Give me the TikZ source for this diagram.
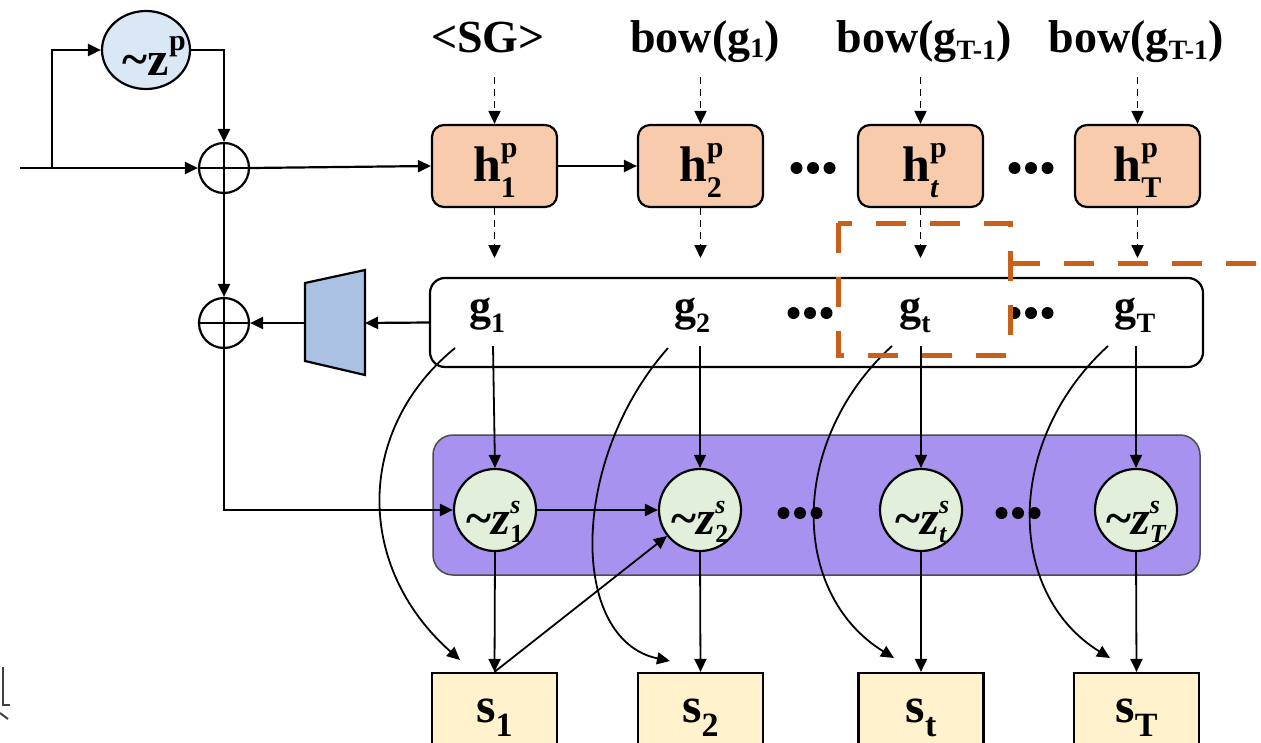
\documentclass[tikz,border=0pt]{standalone}
\usepackage{fontspec}
\setmainfont{Liberation Serif}
\usetikzlibrary{arrows.meta,shapes.geometric}

\definecolor{hfill}{HTML}{F8CBAD}
\definecolor{sfill}{HTML}{FFF2CC}
\definecolor{zfill}{HTML}{E2EFDA}
\definecolor{zpfill}{HTML}{DAE8F5}
\definecolor{trapfill}{HTML}{ABC1E3}
\definecolor{purp}{HTML}{A892F0}
\definecolor{orng}{HTML}{C8601A}

% base with super- and subscript: base, sup, sub, script size, raise, lower
\newcommand{\sps}[6]{{#1}{\fontsize{#4}{#4}\selectfont\rlap{\raisebox{#5}{#2}}\raisebox{-#6}{#3}}}
% base with subscript only: base, sub, lower, script size
\newcommand{\lsub}[4]{{#1}{\fontsize{#4}{#4}\selectfont\raisebox{-#3}{#2}}}

\tikzset{
  arr/.style={-{Triangle[length=13pt,width=12pt]}, line width=2.2pt},
  thinarr/.style={-{Triangle[length=13pt,width=12pt]}, line width=1.8pt},
  dasharr/.style={-{Triangle[length=13pt,width=12pt]}, line width=1.9pt, dash pattern=on 7pt off 5pt},
  lab/.style={font=\fontsize{46}{50}\selectfont\bfseries, inner sep=0pt, anchor=base},
  glab/.style={font=\fontsize{44}{48}\selectfont\bfseries, inner sep=0pt, anchor=base},
  hbox/.style={draw, line width=2.2pt, rounded corners=12pt, fill=hfill, minimum width=125pt,
    minimum height=82pt, inner sep=0pt, font=\fontsize{50}{54}\selectfont\bfseries},
  sbox/.style={draw, line width=2.2pt, fill=sfill, minimum width=125pt, minimum height=90pt,
    inner sep=0pt, font=\fontsize{50}{54}\selectfont\bfseries},
  znode/.style={circle, draw, line width=2.2pt, fill=zfill, minimum size=82pt, inner sep=0pt,
    font=\fontsize{48}{52}\selectfont\bfseries},
  zpnode/.style={ellipse, draw, line width=2.2pt, fill=zpfill, minimum width=88pt,
    minimum height=78pt, inner sep=0pt, font=\fontsize{48}{52}\selectfont\bfseries},
  oplus/.style={circle, draw, line width=2.2pt, minimum size=50pt, inner sep=0pt,
    path picture={\draw[line width=2.2pt] (path picture bounding box.north) -- (path picture bounding box.south)
      (path picture bounding box.west) -- (path picture bounding box.east);}},
  gframe/.style={draw, line width=2.2pt, rounded corners=15pt, fill=white, minimum width=773pt,
    minimum height=89pt, inner sep=0pt},
  pframe/.style={draw=black!70, line width=1.5pt, rounded corners=20pt, fill=purp,
    minimum width=767pt, minimum height=140pt, inner sep=0pt},
  hilite/.style={draw=orng, line width=5pt, dash pattern=on 30pt off 24pt},
}

\begin{document}
\begin{tikzpicture}[x=1pt, y=-1pt]
\useasboundingbox (0,0) rectangle (1261,742);

% ---- left: noise, adders and the projection trapezoid ----
\node[zpnode] (zp) at (146,50) {\raisebox{-25pt}[0pt][0pt]{\textasciitilde\sps{z}{p}{}{30}{25pt}{0pt}}};
\node[oplus] (op1) at (224,168) {};
\node[oplus] (op2) at (224,323) {};
\coordinate (in) at (20,168);
\coordinate (br) at (52,168);
\filldraw[fill=trapfill, line width=2.2pt] (305,283) -- (365,270) -- (365,375) -- (305,361) -- cycle;
\coordinate (trl) at (305,323);
\coordinate (trr) at (365,323);

% ---- top labels ----
\node[lab] (l1) at (488,52) {<SG>};
\node[lab] (l2) at (705,52) {bow(\lsub{g}{1}{5pt}{28})};
\node[lab] (l3) at (924,52) {bow(\lsub{g}{T-1}{7pt}{28})};
\node[lab] (l4) at (1136,52) {bow(\lsub{g}{T-1}{7pt}{28})};

% ---- plan states ----
\node[hbox] (h1) at (494.5,166) {\raisebox{-15pt}[0pt][0pt]{\sps{h}{p}{1}{30}{24pt}{16pt}}};
\node[hbox] (h2) at (700.5,166) {\raisebox{-15pt}[0pt][0pt]{\sps{h}{p}{2}{30}{24pt}{16pt}}};
\node[hbox] (h3) at (920.5,166) {\raisebox{-15pt}[0pt][0pt]{\sps{h}{p}{\itshape t}{30}{24pt}{16pt}}};
\node[hbox] (h4) at (1137.5,166) {\raisebox{-15pt}[0pt][0pt]{\sps{h}{p}{T}{30}{24pt}{16pt}}};

% ---- goal frame ----
\node[gframe] (gb) at (816.5,322.5) {};
\node[glab] (g1) at (487,320) {\lsub{g}{1}{12pt}{28}};
\node[glab] (g2) at (692,320) {\lsub{g}{2}{12pt}{28}};
\node[glab] (g3) at (915,320) {\lsub{g}{t}{12pt}{28}};
\node[glab] (g4) at (1135,320) {\lsub{g}{T}{12pt}{28}};

% ---- sentence latent frame ----
\node[pframe] (pb) at (816.5,505) {};

% ---- sentences ----
\node[sbox] (s1) at (494.5,718) {\raisebox{-4pt}[0pt][0pt]{\lsub{s}{1}{14pt}{34}}};
\node[sbox] (s2) at (700.5,718) {\raisebox{-4pt}[0pt][0pt]{\lsub{s}{2}{14pt}{34}}};
\node[sbox] (s3) at (921,718) {\raisebox{-4pt}[0pt][0pt]{\lsub{s}{t}{14pt}{34}}};
\node[sbox] (s4) at (1136.5,718) {\raisebox{-4pt}[0pt][0pt]{\lsub{s}{T}{14pt}{34}}};

% ---- goal-to-sentence curves (behind the latent circles) ----
\coordinate (c1) at (455,348);  \coordinate (t1) at (460,660);
\coordinate (c2) at (668,348);  \coordinate (t2) at (670,661);
\coordinate (c3) at (892,346);  \coordinate (t3) at (894,658);
\coordinate (c4) at (1108,346); \coordinate (t4) at (1110,658);
\draw[thinarr] (c1) .. controls (355,430) and (355,567) .. (t1);
\draw[thinarr] (c2) .. controls (569,460) and (569,640) .. (t2);
\draw[thinarr] (c3) .. controls (789,440) and (789,593) .. (t3);
\draw[thinarr] (c4) .. controls (1005,440) and (1005,593) .. (t4);

% ---- sentence latents ----
\node[znode] (z1) at (495,510) {\raisebox{-24pt}[0pt][0pt]{\textasciitilde\sps{\itshape z}{\itshape s}{1}{26}{21pt}{8pt}}};
\node[znode] (z2) at (700,510) {\raisebox{-24pt}[0pt][0pt]{\textasciitilde\sps{\itshape z}{\itshape s}{2}{26}{21pt}{8pt}}};
\node[znode] (z3) at (921,510) {\raisebox{-24pt}[0pt][0pt]{\textasciitilde\sps{\itshape z}{\itshape s}{\itshape t}{26}{21pt}{8pt}}};
\node[znode] (z4) at (1136,510) {\raisebox{-24pt}[0pt][0pt]{\textasciitilde\sps{\itshape z}{\itshape s}{\itshape T}{26}{21pt}{8pt}}};

% ---- ellipsis dots ----
\foreach \cx/\cy in {813/168, 1031/168, 810/313, 1031/313, 800/513, 1018/513}
  \foreach \d in {-16.5,0,16.5}
    \fill (\cx+\d,\cy) circle (6pt);

% ---- connectors on the left ----
\draw[arr] (in) -- (op1.west);
\draw[arr] (br) |- (zp.west);
\draw[arr] (zp.east) -| (op1.north);
\draw[arr] (op1.east) -- (h1.west);
\draw[arr] (op1.south) -- (op2.north);
\draw[arr] (op2.south) |- (z1.west);
\draw[arr] (gb.west) -- (trr);
\draw[arr] (trl) -- (op2.east);

% ---- plan row ----
\draw[arr] (h1.east) -- (h2.west);
\foreach \i/\x in {1/494.5, 2/700.5, 3/920.5, 4/1137.5} {
  \coordinate (d\i) at (\x,77);
  \coordinate (e\i) at (\x,258);
  \draw[dasharr] (d\i) -- (h\i.north);
  \draw[dasharr] (h\i.south) -- (e\i);
}

% ---- goals to latents to sentences ----
\foreach \i/\x in {1/493, 2/700, 3/921, 4/1136} {
  \coordinate (a\i) at (\x,346);
  \draw[thinarr] (a\i) -- (z\i.north);
  \draw[thinarr] (z\i.south) -- (s\i.north);
}
\draw[arr] (z1.east) -- (z2.west);
\draw[thinarr] (s1.north) -- (z2);

% ---- highlighted region ----
\draw[hilite] (838,223) rectangle (1010,355);
\coordinate (o1) at (1010,263);
\coordinate (o2) at (1265,263);
\draw[hilite] (o1) -- (o2);

% ---- stray glyph fragment at the lower left ----
\draw[line width=2pt, black!75] (3,667) -- (3,705) -- (10,705);
\draw[line width=2pt, black!75] (0,713) -- (8,719);
\end{tikzpicture}
\end{document}
